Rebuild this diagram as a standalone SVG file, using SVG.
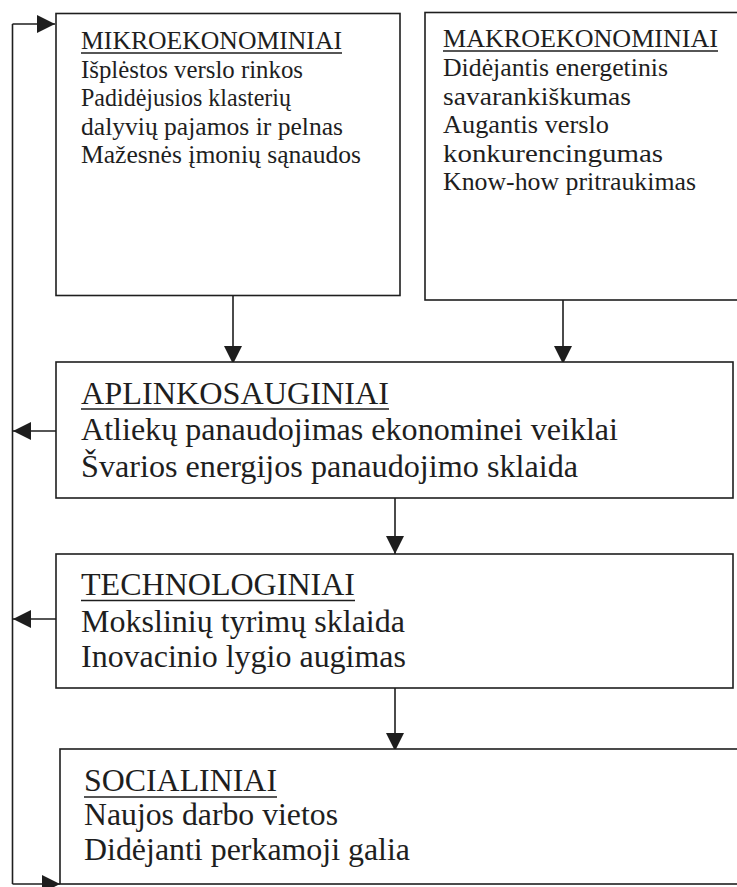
<svg xmlns="http://www.w3.org/2000/svg" width="737" height="887" viewBox="0 0 737 887">
  <style>
    .box { fill: #ffffff; stroke: #1e1e1e; stroke-width: 1.6; }
    .wire { fill: none; stroke: #1e1e1e; stroke-width: 1.6; }
    .ul { stroke: #1e1e1e; stroke-width: 1.4; }
    text { fill: #1e1e1e; }
    .sm { font-size: 26px; }
    .lg { font-size: 32px; }
  </style>
  <defs>
    <marker id="head" markerUnits="userSpaceOnUse" markerWidth="20" markerHeight="20" refX="18" refY="9" orient="auto">
      <path d="M0,0 L18,9 L0,18 Z" fill="#1e1e1e"/>
    </marker>
  </defs>
  <rect width="737" height="887" fill="#ffffff"/>

  <!-- connectors -->
  <g id="connectors">
    <line class="wire" x1="12.5" y1="24" x2="12.5" y2="884"/>
    <line class="wire" x1="12.5" y1="24" x2="55" y2="24" marker-end="url(#head)"/>
    <line class="wire" x1="12.5" y1="884" x2="60" y2="884" marker-end="url(#head)"/>
    <line class="wire" x1="56" y1="431" x2="13" y2="431" marker-end="url(#head)"/>
    <line class="wire" x1="56" y1="619" x2="13" y2="619" marker-end="url(#head)"/>
    <line class="wire" x1="233" y1="296" x2="233" y2="364" marker-end="url(#head)"/>
    <line class="wire" x1="563" y1="300" x2="563" y2="364" marker-end="url(#head)"/>
    <line class="wire" x1="395" y1="495" x2="395" y2="554" marker-end="url(#head)"/>
    <line class="wire" x1="395" y1="688" x2="395" y2="751" marker-end="url(#head)"/>
  </g>

  <g font-family="Liberation Serif, Tinos, Times New Roman, Times, serif">
  <g id="mikro">
    <rect class="box" x="56" y="13.5" width="344" height="282"/>
    <text class="sm" x="81" y="49" textLength="261" lengthAdjust="spacingAndGlyphs">MIKROEKONOMINIAI</text>
    <line class="ul" x1="81" y1="53" x2="342" y2="53"/>
    <text class="sm" x="81" y="78" textLength="222" lengthAdjust="spacingAndGlyphs">Išplėstos verslo rinkos</text>
    <text class="sm" x="81" y="106" textLength="210" lengthAdjust="spacingAndGlyphs">Padidėjusios klasterių</text>
    <text class="sm" x="81" y="135" textLength="262" lengthAdjust="spacingAndGlyphs">dalyvių pajamos ir pelnas</text>
    <text class="sm" x="81" y="163" textLength="280" lengthAdjust="spacingAndGlyphs">Mažesnės įmonių sąnaudos</text>
  </g>

  <g id="makro">
    <rect class="box" x="425" y="12.5" width="330" height="287.5"/>
    <text class="sm" x="443" y="47" textLength="275" lengthAdjust="spacingAndGlyphs">MAKROEKONOMINIAI</text>
    <line class="ul" x1="443" y1="51" x2="718" y2="51"/>
    <text class="sm" x="443" y="76" textLength="225" lengthAdjust="spacingAndGlyphs">Didėjantis energetinis</text>
    <text class="sm" x="443" y="105" textLength="188" lengthAdjust="spacingAndGlyphs">savarankiškumas</text>
    <text class="sm" x="443" y="133" textLength="166" lengthAdjust="spacingAndGlyphs">Augantis verslo</text>
    <text class="sm" x="443" y="162" textLength="220" lengthAdjust="spacingAndGlyphs">konkurencingumas</text>
    <text class="sm" x="443" y="190" textLength="253" lengthAdjust="spacingAndGlyphs">Know-how pritraukimas</text>
  </g>

  <g id="aplinkosauginiai">
    <rect class="box" x="56" y="362" width="677" height="136"/>
    <text class="lg" x="81" y="404" textLength="308" lengthAdjust="spacingAndGlyphs">APLINKOSAUGINIAI</text>
    <line class="ul" x1="81" y1="409" x2="389" y2="409"/>
    <text class="lg" x="81" y="440" textLength="537" lengthAdjust="spacingAndGlyphs">Atliekų panaudojimas ekonominei veiklai</text>
    <text class="lg" x="81" y="477" textLength="497" lengthAdjust="spacingAndGlyphs">Švarios energijos panaudojimo sklaida</text>
  </g>

  <g id="technologiniai">
    <rect class="box" x="56" y="554" width="677" height="134"/>
    <text class="lg" x="81" y="595" textLength="274" lengthAdjust="spacingAndGlyphs">TECHNOLOGINIAI</text>
    <line class="ul" x1="81" y1="600.5" x2="355" y2="600.5"/>
    <text class="lg" x="81" y="632" textLength="324" lengthAdjust="spacingAndGlyphs">Mokslinių tyrimų sklaida</text>
    <text class="lg" x="81" y="667" textLength="325" lengthAdjust="spacingAndGlyphs">Inovacinio lygio augimas</text>
  </g>

  <g id="socialiniai">
    <rect class="box" x="60" y="749" width="690" height="135"/>
    <text class="lg" x="84" y="791" textLength="193" lengthAdjust="spacingAndGlyphs">SOCIALINIAI</text>
    <line class="ul" x1="84" y1="797" x2="277" y2="797"/>
    <text class="lg" x="84" y="825" textLength="254" lengthAdjust="spacingAndGlyphs">Naujos darbo vietos</text>
    <text class="lg" x="84" y="860" textLength="326" lengthAdjust="spacingAndGlyphs">Didėjanti perkamoji galia</text>
  </g>
  </g>
</svg>
